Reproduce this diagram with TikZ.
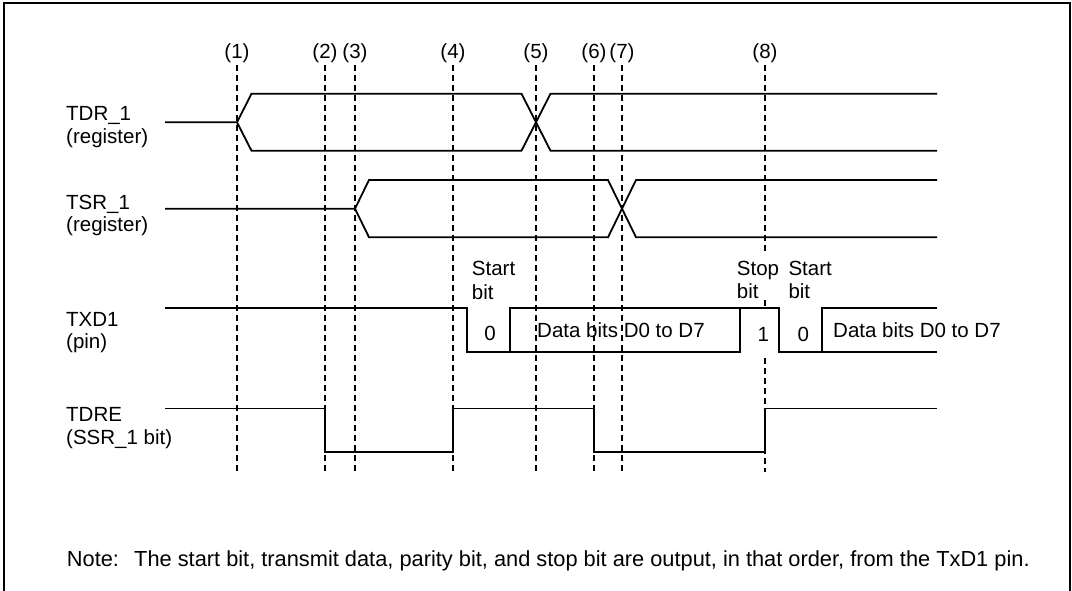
\documentclass[tikz,border=0pt]{standalone}
\usepackage{fontspec}
\setmainfont{Liberation Sans}
\begin{document}
\begin{tikzpicture}[
  x=1pt, y=-1pt,
  font=\fontsize{20.5}{23}\selectfont,
  sig/.style={line width=1.8pt},
  guide/.style={line width=1.2pt, dash pattern=on 6pt off 4pt},
  lbl/.style={anchor=base west, inner sep=0pt},
  num/.style={anchor=base, inner sep=0pt},
  notefont/.style={font=\fontsize{21.8}{24}\selectfont},
  frm/.style={line width=2.5pt}
]
\useasboundingbox (0,0) rectangle (1072,590);
% frame, open at the bottom
\draw[frm] (4,592) -- (4,3) -- (1070,3) -- (1070,592);

% timing points
\node[num] (n1) at (237,58) {(1)};
\node[num] (n2) at (325,58) {(2)};
\node[num] (n3) at (355,58) {(3)};
\node[num] (n4) at (453,58) {(4)};
\node[num] (n5) at (536,58) {(5)};
\node[num] (n6) at (594,58) {(6)};
\node[num] (n7) at (622,58) {(7)};
\node[num] (n8) at (765,58) {(8)};
\draw[guide] (237,65) -- (237,472);
\draw[guide] (325,65) -- (325,472);
\draw[guide] (355,65) -- (355,472);
\draw[guide] (453,65) -- (453,472);
\draw[guide] (536,65) -- (536,472);
\draw[guide] (594,65) -- (594,472);
\draw[guide] (622,65) -- (622,472);
\draw[guide] (765,65) -- (765,252);
\draw[guide] (765,300) -- (765,306);
\draw[guide] (765,358) -- (765,472);

% signal names
\node[lbl] (tdr)   at (66,120)   {TDR\_1};
\node[lbl] (tdrr)  at (66,143)   {(register)};
\node[lbl] (tsr)   at (66,209)   {TSR\_1};
\node[lbl] (tsrr)  at (66,231.5) {(register)};
\node[lbl] (txd)   at (66,326)   {TXD1};
\node[lbl] (txdp)  at (66,348)   {(pin)};
\node[lbl] (tdre)  at (66,421.5) {TDRE};
\node[lbl] (tdrep) at (66,444)   {(SSR\_1 bit)};

% TDR_1
\draw[sig] (165,122.3) -- (237,122.3) -- (251.5,93.7) -- (521.5,93.7) -- (550.5,150.7) -- (937,150.7);
\draw[sig] (237,122.3) -- (251.5,150.7) -- (521.5,150.7) -- (550.5,93.7) -- (937,93.7);
% TSR_1
\draw[sig] (165,208.7) -- (355,208.7) -- (369,180) -- (608,180) -- (636,237.3) -- (937,237.3);
\draw[sig] (355,208.7) -- (369,237.3) -- (608,237.3) -- (636,180) -- (937,180);
% TXD1
\draw[sig] (165,308.3) -- (467,308.3) -- (467,352) -- (740,352) -- (740,308.3) -- (779,308.3) -- (779,352) -- (937,352);
\draw[sig] (510,352) -- (510,308.3) -- (740,308.3);
\draw[sig] (822,352) -- (822,308.3) -- (937,308.3);
\node[lbl] (st1)  at (471.7,275.7) {Start};
\node[lbl] (st1b) at (471.7,299)   {bit};
\node[lbl] (sp)   at (736.7,275.7) {Stop};
\node[lbl] (spb)  at (736.7,298.5) {bit};
\node[lbl] (st2)  at (788.3,275.7) {Start};
\node[lbl] (st2b) at (788.3,298.5) {bit};
\node[num] (b0a)  at (490,340.5)   {0};
\node[num] (b1)   at (763.3,341.5) {1};
\node[num] (b0b)  at (803.3,341.5) {0};
\node[lbl] (data1) at (537,337) {Data bits D0 to D7};
\node[lbl] (data2) at (833,337) {Data bits D0 to D7};
% TDRE
\draw[sig] (165,408.5) -- (325,408.5) -- (325,452) -- (453,452) -- (453,408.5) -- (594,408.5) -- (594,452) -- (765,452) -- (765,408.5) -- (937,408.5);

% note
\node[lbl, notefont] (note)    at (66.7,566) {Note:};
\node[lbl, notefont] (notetxt) at (134,566)  {The start bit, transmit data, parity bit, and stop bit are output, in that order, from the TxD1 pin.};
\end{tikzpicture}
\end{document}
